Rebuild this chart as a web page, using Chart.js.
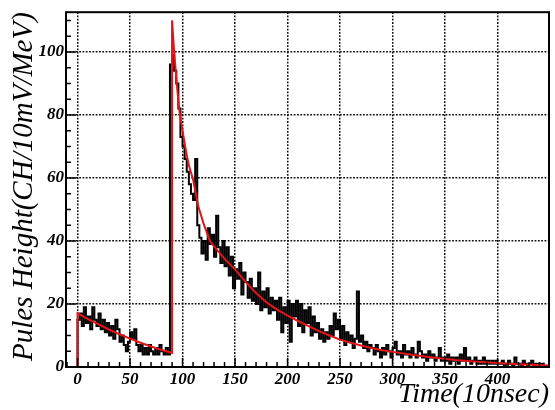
<!DOCTYPE html>
<html>
<head>
<meta charset="utf-8">
<script src="https://cdn.jsdelivr.net/npm/chart.js@4"></script>
<style>
  html, body { margin: 0; padding: 0; background: #fff; }
  #wrap { width: 555px; height: 410px; }
</style>
</head>
<body>
<div id="wrap"><canvas id="c" width="555" height="410"></canvas></div>
<script>
// ---- data ----
const binLow = 0;
const binWidth = 2;
const counts = [
  // 0 .. 88
  11, 15, 17, 13, 19, 14, 16, 12, 19, 15,
  13, 17, 12, 15, 11, 14, 10, 13, 9, 15,
  12, 8, 10, 7, 5, 8, 11, 9, 12, 7,
  5, 7, 4, 6, 4, 7, 5, 4, 6, 4,
  7, 5, 4, 6, 4,
  // 90 .. 108
  96, 99, 94, 90, 82, 73, 70, 66, 62, 58,
  // 110 .. 128
  55, 53, 66, 45, 41, 36, 40, 34, 44, 39,
  // 130 .. 148
  42, 35, 48, 38, 33, 40, 32, 38, 29, 35,
  // 150 .. 168
  25, 31, 28, 33, 23, 30, 27, 22, 28, 21,
  // 170 .. 188
  25, 20, 30, 18, 24, 19, 25, 17, 22, 18,
  // 190 .. 208
  21, 15, 22, 11, 19, 14, 21, 8, 20, 16,
  // 210 .. 228
  21, 13, 20, 11, 18, 14, 19, 10, 16, 11,
  // 230 .. 248
  14, 9, 12, 8, 11, 9, 13, 10, 17, 12,
  // 250 .. 268
  15, 9, 13, 7, 11, 8, 10, 6, 9, 24,
  // 270 .. 288
  8, 10, 6, 8, 5, 7, 6, 4, 7, 5,
  // 290 .. 308
  3, 6, 4, 7, 5, 3, 6, 8, 4, 5,
  // 310 .. 328
  3, 7, 4, 5, 3, 6, 4, 3, 8, 5,
  // 330 .. 348
  3, 4, 2, 5, 3, 4, 2, 3, 6, 2,
  // 350 .. 368
  3, 2, 4, 1, 3, 2, 3, 1, 4, 2,
  // 370 .. 388
  6, 2, 3, 1, 2, 3, 1, 2, 1, 3,
  // 390 .. 408
  1, 2, 1, 2, 1, 2, 1, 1, 2, 0,
  // 410 .. 428
  1, 2, 1, 0, 3, 1, 1, 0, 2, 1,
  // 430 .. 446
  0, 1, 2, 0, 1, 1, 0, 1, 0
];

const fitX = [-11, 0, 0, 10, 20, 30, 40, 50, 60, 70, 80, 90, 90,
  92, 95, 97.5, 100, 103, 106, 110, 115, 120, 126, 130, 140, 150,
  160, 170, 180, 190, 200, 210, 220, 230, 240, 250, 260, 270, 280,
  290, 300, 320, 340, 360, 380, 400, 420, 440, 449];
const fitY = [0, 0, 17.1, 15.2, 13.5, 11.9, 10.4, 9.0, 7.7, 6.5, 5.4, 4.5, 110,
  100, 88, 80, 75, 69, 64, 59.5, 51, 45.5, 40, 38.3, 34.3, 31,
  27, 23.5, 20.5, 18.2, 16.3, 14.6, 13, 11.4, 10, 8.7, 7.7, 6.8, 6.0,
  5.3, 4.8, 3.8, 2.9, 2.2, 1.7, 1.3, 0.9, 0.6, 0.5];

const xTicks = [0, 50, 100, 150, 200, 250, 300, 350, 400];
const yTicks = [0, 20, 40, 60, 80, 100];
const xRange = [-11, 449];
const yRange = [0, 112.6];
const xTitle = 'Time(10nsec)';
const yTitle = 'Pules Height(CH/10mV/MeV)';

// ---- build datasets ----
const histPoints = [{x: binLow, y: 0}];
counts.forEach((c, i) => histPoints.push({x: binLow + i * binWidth, y: c}));
const histEnd = binLow + counts.length * binWidth;
histPoints.push({x: histEnd, y: counts[counts.length - 1]});
histPoints.push({x: histEnd, y: 0});

const fitPoints = fitX.map((x, i) => ({x: x, y: fitY[i]}));

const serif = '"Liberation Serif", "Times New Roman", serif';
const tickFont = {family: serif, size: 17, style: 'italic', weight: 'bold'};

const innerTicks = {
  id: 'innerTicks',
  afterDraw(chart) {
    const {ctx, chartArea: a, scales: {x, y}} = chart;
    ctx.save();
    ctx.strokeStyle = '#000';
    ctx.lineWidth = 1.5;
    ctx.beginPath();
    for (let v = -10; v <= 440; v += 10) {
      const px = x.getPixelForValue(v);
      if (px < a.left + 1 || px > a.right) continue;
      const len = (v % 50 === 0) ? 9 : 5;
      ctx.moveTo(px, a.bottom);
      ctx.lineTo(px, a.bottom - len);
    }
    for (let v = 0; v <= 110; v += 5) {
      const py = y.getPixelForValue(v);
      const len = (v % 20 === 0) ? 10 : 5;
      ctx.moveTo(a.left, py);
      ctx.lineTo(a.left + len, py);
    }
    ctx.stroke();
    ctx.lineWidth = 2;
    ctx.strokeRect(a.left, a.top, a.right - a.left, a.bottom - a.top);
    ctx.restore();
  }
};

new Chart(document.getElementById('c'), {
  type: 'line',
  data: {
    datasets: [
      {
        data: fitPoints,
        borderColor: '#e3151a',
        borderWidth: 2,
        pointRadius: 0,
        tension: 0,
        fill: false,
        order: 0
      },
      {
        data: histPoints,
        borderColor: '#000',
        borderWidth: 2,
        pointRadius: 0,
        stepped: 'after',
        fill: false,
        order: 1
      }
    ]
  },
  options: {
    responsive: false,
    animation: false,
    events: [],
    layout: {padding: {top: 9, right: 6, left: 0, bottom: 0}},
    plugins: {legend: {display: false}, tooltip: {enabled: false}},
    scales: {
      x: {
        type: 'linear',
        min: xRange[0],
        max: xRange[1],
        afterBuildTicks: s => { s.ticks = xTicks.map(v => ({value: v})); },
        afterFit: s => { s.height = 43; },
        grid: {color: '#111', lineWidth: 1.5, drawTicks: false},
        border: {display: false, dash: [1.8, 1.5]},
        ticks: {color: '#000', font: tickFont, padding: 2, maxRotation: 0, autoSkip: false},
        title: {display: true, text: xTitle, align: 'end', color: '#000', font: {family: serif, size: 28, style: 'italic', weight: 'normal', lineHeight: 1.0}, padding: {top: 0, bottom: 1.5}}
      },
      y: {
        type: 'linear',
        min: yRange[0],
        max: yRange[1],
        afterBuildTicks: s => { s.ticks = yTicks.map(v => ({value: v})); },
        afterFit: s => { s.width = 66; },
        grid: {color: '#111', lineWidth: 1.5, drawTicks: false},
        border: {display: false, dash: [1.8, 1.5]},
        ticks: {color: '#000', font: tickFont, padding: 2, autoSkip: false},
        title: {display: true, text: yTitle, align: 'end', color: '#000', font: {family: serif, size: 29, style: 'italic', weight: 'normal', lineHeight: 1.0}, padding: {top: 10, bottom: 0}}
      }
    }
  },
  plugins: [innerTicks]
});
</script>
</body>
</html>
